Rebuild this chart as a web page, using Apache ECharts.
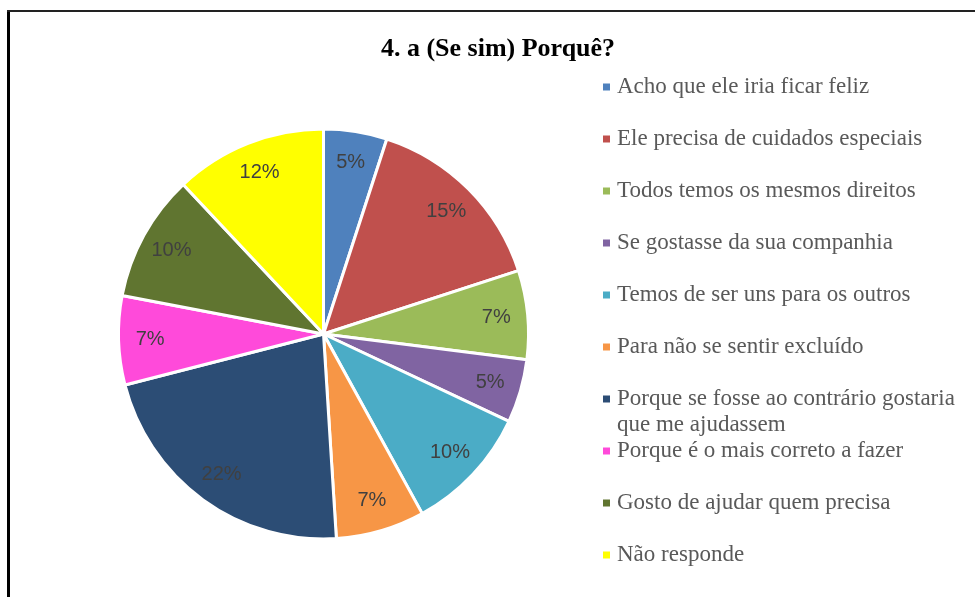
<!DOCTYPE html>
<html>
<head>
<meta charset="utf-8">
<script src="https://cdn.jsdelivr.net/npm/echarts@6/dist/echarts.min.js"></script>
<style>
  html, body { margin: 0; padding: 0; background: #fff; }
  #pieChart { width: 975px; height: 597px; }
</style>
</head>
<body>
<div id="pieChart"></div>
<script>
// dados do gráfico
const titulo = '4. a (Se sim) Porquê?';
const categorias = [
  'Acho que ele iria ficar feliz',
  'Ele precisa de cuidados especiais',
  'Todos temos os mesmos direitos',
  'Se gostasse da sua companhia',
  'Temos de ser uns para os outros',
  'Para não se sentir excluído',
  'Porque se fosse ao contrário gostaria\nque me ajudassem',
  'Porque é o mais correto a fazer',
  'Gosto de ajudar quem precisa',
  'Não responde'
];
const percentagens = [5, 15, 7, 5, 10, 7, 22, 7, 10, 12];
const cores = ['#4F81BD', '#C0504D', '#9BBB59', '#8064A2', '#4BACC6',
  '#F79646', '#2C4D75', '#FF4ADA', '#607530', '#FFFF00'];

const dados = categorias.map((nome, i) => ({ name: nome, value: percentagens[i] }));
const serifFont = '"Liberation Serif", "Times New Roman", serif';

// texto da legenda com duas linhas: a segunda vai num elemento gráfico
const linhaLonga = categorias.find(n => n.indexOf('\n') >= 0);
const idxLonga = categorias.indexOf(linhaLonga);

const option = {
  animation: false,
  backgroundColor: '#fff',
  color: cores,
  title: {
    text: titulo,
    left: 498,
    top: 36,
    padding: 0,
    textAlign: 'center',
    textStyle: {
      fontFamily: serifFont,
      fontWeight: 'bold',
      fontSize: 26,
      color: '#000'
    }
  },
  legend: {
    orient: 'vertical',
    left: 603,
    top: 74,
    padding: 0,
    icon: 'rect',
    itemWidth: 7,
    itemHeight: 7,
    itemGap: 26,
    selectedMode: false,
    data: categorias,
    itemStyle: { borderWidth: 0 },
    formatter: function(name) {
      return name.split('\n')[0];
    },
    textStyle: {
      fontFamily: serifFont,
      fontSize: 23,
      color: '#595959',
      lineHeight: 26,
      padding: [0, 0, 0, 2]
    }
  },
  graphic: [
    {
      type: 'line',
      shape: { x1: 8.5, y1: 10, x2: 8.5, y2: 600 },
      style: { stroke: '#000', lineWidth: 3 }
    },
    {
      type: 'line',
      shape: { x1: 7, y1: 11, x2: 980, y2: 11 },
      style: { stroke: '#222', lineWidth: 2 }
    },
    {
      type: 'text',
      x: 617,
      y: 74 + 13 + 26 * (2 * idxLonga + 1),
      style: {
        text: linhaLonga.split('\n')[1],
        fontFamily: serifFont,
        fontSize: 23,
        fill: '#595959',
        verticalAlign: 'middle'
      }
    }
  ],
  series: [
    {
      name: 'fatias',
      type: 'pie',
      center: [323.5, 334],
      radius: [0, 205],
      startAngle: 90,
      clockwise: true,
      silent: true,
      data: dados,
      itemStyle: { borderColor: '#fff', borderWidth: 3 },
      label: { show: false },
      labelLine: { show: false }
    },
    {
      // série só para posicionar os rótulos perto da borda
      name: 'rotulos',
      type: 'pie',
      center: [323.5, 334],
      radius: [136, 205],
      startAngle: 90,
      clockwise: true,
      silent: true,
      data: dados,
      itemStyle: { color: 'rgba(0,0,0,0)', borderWidth: 0 },
      label: {
        show: true,
        position: 'inside',
        fontFamily: '"Liberation Sans", Arial, sans-serif',
        fontSize: 20,
        color: '#404040',
        formatter: function(p) {
          return Math.round(p.percent) + '%';
        }
      },
      labelLine: { show: false }
    }
  ]
};

const chart = echarts.init(document.getElementById('pieChart'));
chart.setOption(option);
window.onresize = chart.resize;
</script>
</body>
</html>
